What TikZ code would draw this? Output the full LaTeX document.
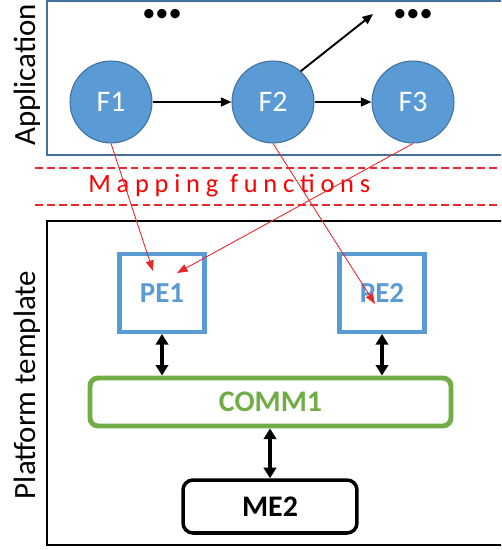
\documentclass[tikz,border=0pt]{standalone}
\usepackage{fontspec}
\setmainfont{Carlito}
\usepackage{tikz}
\usetikzlibrary{positioning, arrows.meta}

\definecolor{funcblue}{HTML}{5B9BD5}
\definecolor{funcedge}{HTML}{41719C}
\definecolor{commgreen}{HTML}{70AD47}
\definecolor{mapred}{HTML}{E8282B}

\tikzset{
    func/.style={circle, fill=funcblue, draw=funcedge, line width=0.6pt, minimum size=1.64cm,
        text=white, font=\fontsize{17}{19}\selectfont, inner sep=0pt},
    pebox/.style={draw=funcblue, line width=2.3pt, minimum width=1.7cm, minimum height=1.56cm,
        text=funcblue, font=\fontsize{16.5}{18}\selectfont\bfseries, inner sep=0pt},
    layerlabel/.style={rotate=90, font=\fontsize{17.6}{20}\selectfont, inner sep=0pt},
    flow/.style={-{Triangle[length=6pt, width=5pt]}, line width=1.1pt},
    link/.style={{Triangle[length=6pt, width=7pt]}-{Triangle[length=6pt, width=7pt]}, line width=2.1pt},
    maparrow/.style={-{Triangle[length=6pt, width=4.5pt]}, draw=mapred, line width=0.5pt},
    sepline/.style={draw=mapred, line width=1.1pt, dash pattern=on 4.5pt off 2.3pt},
}

\begin{document}
\begin{tikzpicture}[x=0.02cm, y=-0.02cm]
    \clip (0,0) rectangle (501,550);

    % layers
    \draw[draw=funcedge, line width=1.1pt] (47,1) rectangle (520,155);
    \draw[line width=0.9pt] (47,221) rectangle (520,545);
    \node[layerlabel] (app) at (27,75) {Application};
    \node[layerlabel] (plat) at (27,385) {Platform template};

    % application graph
    \node[func] (F1) at (111,102) {F1};
    \node[func] (F2) at (273,102) {F2};
    \node[func] (F3) at (413,102) {F3};
    \node[font=\fontsize{15}{16}\selectfont, inner sep=0pt] (moreA) at (162,15) {\textbullet\textbullet\textbullet};
    \node[font=\fontsize{15}{16}\selectfont, inner sep=0pt] (moreB) at (413,15) {\textbullet\textbullet\textbullet};
    \coordinate (out) at (373,14);
    \draw[flow] (F1) -- (F2);
    \draw[flow] (F2) -- (F3);
    \draw[flow] (F2.48) -- (out);

    % mapping band
    \draw[sepline] (35,168) -- (501,168);
    \draw[sepline] (35,205) -- (501,205);
    \node[text=red, font=\fontsize{15}{17}\selectfont\addfontfeature{LetterSpace=22}, inner sep=0pt, anchor=west]
        (mapping) at (88,186) {Mapping functions};

    % platform
    \node[pebox] (PE1) at (162,293) {PE1};
    \node[pebox] (PE2) at (382,293) {PE2};
    \node[draw=commgreen, line width=2.8pt, rounded corners=0.16cm, minimum width=7.22cm, minimum height=0.96cm,
        text=commgreen, font=\fontsize{17}{19}\selectfont\bfseries] (COMM1) at (270.5,402) {COMM1};
    \node[draw, line width=2pt, rounded corners=0.2cm, minimum width=3.48cm, minimum height=1.06cm,
        font=\fontsize{17}{19}\selectfont\bfseries] (ME2) at (270,506.5) {ME2};
    \draw[link] (PE1.south) -- (PE1.south |- COMM1.north);
    \draw[link] (PE2.south) -- (PE2.south |- COMM1.north);
    \draw[link] (COMM1.south -| ME2.north) -- (ME2.north);

    % mapping arrows
    \coordinate (pe1a) at (153,271);
    \coordinate (pe1b) at (177,273);
    \coordinate (pe2a) at (375,304);
    \draw[maparrow] (F1.south) -- (pe1a);
    \draw[maparrow] (F3.south) -- (pe1b);
    \draw[maparrow] (F2.south) -- (pe2a);
\end{tikzpicture}
\end{document}
